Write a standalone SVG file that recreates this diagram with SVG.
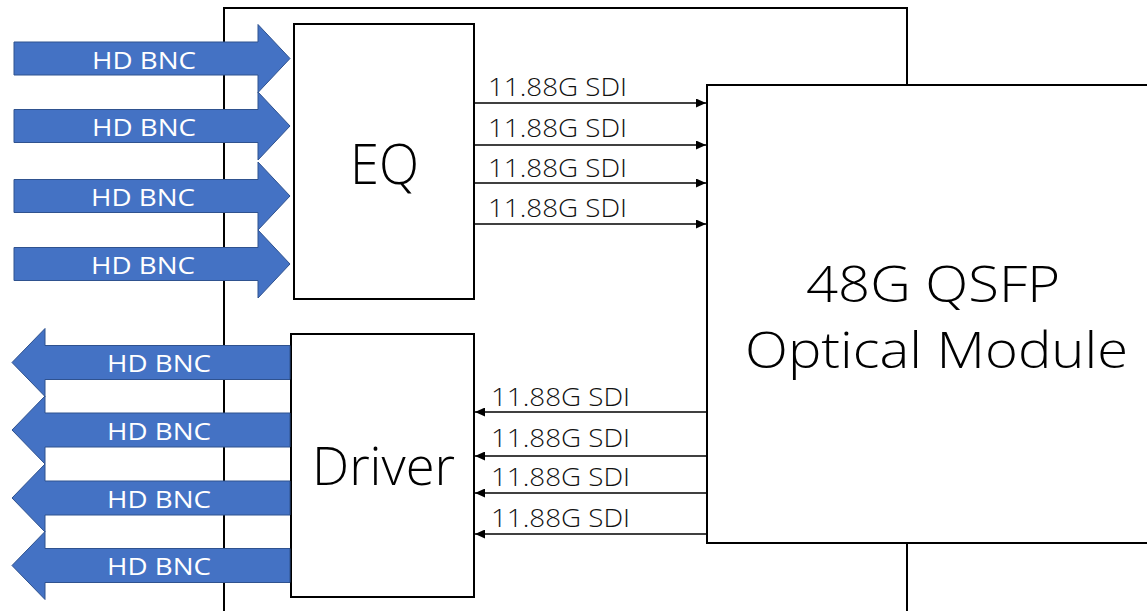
<svg xmlns="http://www.w3.org/2000/svg" width="1147" height="611" viewBox="0 0 1147 611">
<defs>
<style>
.box{fill:#fff;stroke:#000;stroke-width:2}
.frame{fill:none;stroke:#000;stroke-width:2}
.bnc{fill:#4472C4;stroke:#2F528F;stroke-width:1}
.bnct{font-family:"Open Sans","Liberation Sans",Arial,sans-serif;font-size:23.5px;fill:#fff;text-anchor:middle}
.sdi{stroke:#000;stroke-width:1.6;fill:none;marker-end:url(#ah)}
.sdit{font-family:"Open Sans","Liberation Sans",Arial,sans-serif;font-weight:300;font-size:26px;fill:#111}
.big{font-family:"Open Sans","Liberation Sans",Arial,sans-serif;font-weight:300;fill:#000;text-anchor:middle}
</style>
<marker id="ah" markerUnits="userSpaceOnUse" markerWidth="11" markerHeight="9" refX="10" refY="4.5" orient="auto">
<path d="M0,0 L10,4.5 L0,9 Z" fill="#000"/>
</marker>
<path id="inArrow" d="M14,-16.5 H258 V-34 L290,0 L258,34 V16.5 H14 Z"/>
<path id="outArrow" d="M290,-17 H45 V-34 L12,0 L45,34 V17 H290 Z"/>
</defs>
<rect width="1147" height="611" fill="#fff"/>
<g id="frame">
<path class="frame" d="M224,620 V8 H907 V620"/>
</g>
<g id="qsfp">
<rect class="box" x="707" y="85" width="460" height="458"/>
<text class="big" x="933" y="302" font-size="49" textLength="254" lengthAdjust="spacingAndGlyphs">48G QSFP</text>
<text class="big" x="936.5" y="368" font-size="50" textLength="383" lengthAdjust="spacingAndGlyphs">Optical Module</text>
</g>
<g id="eq">
<rect class="box" x="294" y="24" width="180" height="275"/>
<text class="big" x="384.5" y="184" font-size="56" textLength="69" lengthAdjust="spacingAndGlyphs">EQ</text>
</g>
<g id="driver">
<rect class="box" x="291" y="334" width="183" height="263"/>
<text class="big" x="383.5" y="485" font-size="53" textLength="143" lengthAdjust="spacingAndGlyphs">Driver</text>
</g>
<g id="inputs">
<g id="in1"><use href="#inArrow" class="bnc" y="58.5"/><text class="bnct" x="144" y="68.5" textLength="104" lengthAdjust="spacingAndGlyphs">HD BNC</text></g>
<g id="in2"><use href="#inArrow" class="bnc" y="126"/><text class="bnct" x="144" y="136" textLength="104" lengthAdjust="spacingAndGlyphs">HD BNC</text></g>
<g id="in3"><use href="#inArrow" class="bnc" y="196"/><text class="bnct" x="143" y="206" textLength="104" lengthAdjust="spacingAndGlyphs">HD BNC</text></g>
<g id="in4"><use href="#inArrow" class="bnc" y="264"/><text class="bnct" x="143" y="274" textLength="104" lengthAdjust="spacingAndGlyphs">HD BNC</text></g>
</g>
<g id="outputs">
<g id="out1"><use href="#outArrow" class="bnc" y="362.5"/><text class="bnct" x="159" y="372" textLength="104" lengthAdjust="spacingAndGlyphs">HD BNC</text></g>
<g id="out2"><use href="#outArrow" class="bnc" y="430"/><text class="bnct" x="159" y="439.5" textLength="104" lengthAdjust="spacingAndGlyphs">HD BNC</text></g>
<g id="out3"><use href="#outArrow" class="bnc" y="498"/><text class="bnct" x="159" y="507.5" textLength="104" lengthAdjust="spacingAndGlyphs">HD BNC</text></g>
<g id="out4"><use href="#outArrow" class="bnc" y="565.5"/><text class="bnct" x="159" y="575" textLength="104" lengthAdjust="spacingAndGlyphs">HD BNC</text></g>
</g>
<g id="connectors">
<line class="sdi" x1="474" y1="103" x2="706" y2="103"/>
<line class="sdi" x1="474" y1="145" x2="706" y2="145"/>
<line class="sdi" x1="474" y1="183" x2="706" y2="183"/>
<line class="sdi" x1="474" y1="224" x2="706" y2="224"/>
<line class="sdi" x1="707" y1="412" x2="475" y2="412"/>
<line class="sdi" x1="707" y1="456" x2="475" y2="456"/>
<line class="sdi" x1="707" y1="493" x2="475" y2="493"/>
<line class="sdi" x1="707" y1="534" x2="475" y2="534"/>
<text class="sdit" x="488" y="96" textLength="139" lengthAdjust="spacingAndGlyphs">11.88G SDI</text>
<text class="sdit" x="488" y="137" textLength="139" lengthAdjust="spacingAndGlyphs">11.88G SDI</text>
<text class="sdit" x="488" y="177" textLength="139" lengthAdjust="spacingAndGlyphs">11.88G SDI</text>
<text class="sdit" x="488" y="217" textLength="139" lengthAdjust="spacingAndGlyphs">11.88G SDI</text>
<text class="sdit" x="491" y="406" textLength="139" lengthAdjust="spacingAndGlyphs">11.88G SDI</text>
<text class="sdit" x="491" y="447" textLength="139" lengthAdjust="spacingAndGlyphs">11.88G SDI</text>
<text class="sdit" x="491" y="486" textLength="139" lengthAdjust="spacingAndGlyphs">11.88G SDI</text>
<text class="sdit" x="491" y="527" textLength="139" lengthAdjust="spacingAndGlyphs">11.88G SDI</text>
</g>
</svg>
